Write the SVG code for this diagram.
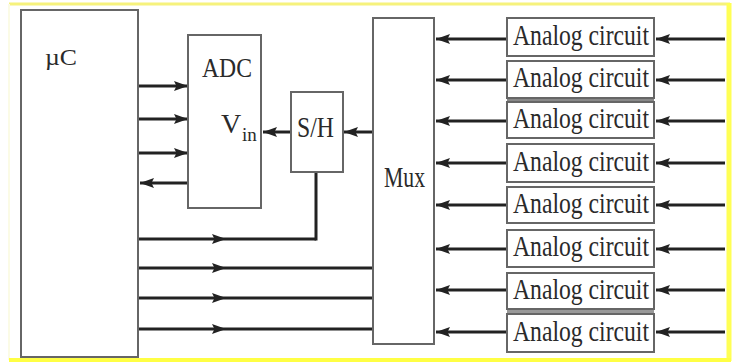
<svg xmlns="http://www.w3.org/2000/svg" width="737" height="362" viewBox="0 0 737 362">
<style>
.box{fill:#fff;stroke:#666;stroke-width:2}
.t{font-family:"Liberation Serif","Times New Roman",serif;fill:#2a2a2a}
.w{fill:none;stroke:#222;stroke-width:3}
.ar{fill:none;stroke:#222;stroke-width:3;marker-end:url(#ah)}
.mid{fill:none;stroke:#222;stroke-width:3;marker-mid:url(#ah)}
</style>
<defs>
<marker id="ah" markerUnits="userSpaceOnUse" markerWidth="15" markerHeight="11" refX="14" refY="5.5" orient="auto" viewBox="0 0 15 11">
<path d="M0,0.5 L14,5.5 L0,10.5 L2.5,5.5 z" fill="#222"/>
</marker>
</defs>
<rect x="0" y="0" width="737" height="362" fill="#fff"/>
<g id="frame" fill="none">
<path d="M9,4 H730" stroke="#f6f27c" stroke-width="3"/>
<path d="M9,4 V360" stroke="#fbfbe6" stroke-width="2"/>
<path d="M729,3 V361" stroke="#ffff55" stroke-width="5"/>
<path d="M9,360 H731" stroke="#ffff44" stroke-width="4"/>
</g>
<g id="connectors">
<path class="ar" d="M138,86 H188"/>
<path class="ar" d="M138,119 H188"/>
<path class="ar" d="M138,153 H188"/>
<path class="ar" d="M188,183 H140"/>
<path class="ar" d="M291,132 H263"/>
<path class="ar" d="M373,132 H344"/>
<path class="mid" d="M138,239 H226 H316"/>
<path class="w" d="M314.5,239 H316 V172"/>
<path class="mid" d="M138,268 H226 H373"/>
<path class="mid" d="M138,298 H226 H373"/>
<path class="mid" d="M138,329 H226 H373"/>
<path class="ar" d="M507,39 H436"/>
<path class="ar" d="M507,80 H436"/>
<path class="ar" d="M507,121 H436"/>
<path class="ar" d="M507,163 H436"/>
<path class="ar" d="M507,205 H436"/>
<path class="ar" d="M507,249 H436"/>
<path class="ar" d="M507,290 H436"/>
<path class="ar" d="M507,332 H436"/>
<path class="ar" d="M725,39 H656"/>
<path class="ar" d="M725,80 H656"/>
<path class="ar" d="M725,121 H656"/>
<path class="ar" d="M725,163 H656"/>
<path class="ar" d="M725,205 H656"/>
<path class="ar" d="M725,249 H656"/>
<path class="ar" d="M725,290 H656"/>
<path class="ar" d="M725,332 H656"/>
</g>
<g id="uC"><rect class="box" x="21" y="10" width="117" height="347"/><text class="t" x="45" y="65" font-size="23" textLength="32" lengthAdjust="spacingAndGlyphs">µC</text></g>
<g id="ADC"><rect class="box" x="188" y="35" width="73" height="173"/><text class="t" x="202" y="77" font-size="28" textLength="50" lengthAdjust="spacingAndGlyphs">ADC</text><text class="t" x="221" y="133" font-size="28">V<tspan x="242" dy="8" font-size="19">in</tspan></text></g>
<g id="SH"><rect class="box" x="291" y="92" width="52" height="80"/><text class="t" x="297" y="137" font-size="29" textLength="37" lengthAdjust="spacingAndGlyphs">S/H</text></g>
<g id="Mux"><rect class="box" x="373" y="18" width="61" height="326"/><text class="t" x="384" y="187" font-size="29" textLength="41" lengthAdjust="spacingAndGlyphs">Mux</text></g>
<rect x="507" y="97" width="147" height="5" fill="#888"/>
<rect x="507" y="309" width="147" height="5" fill="#999"/>
<g id="ac1"><rect class="box" x="507" y="18" width="147" height="38"/><text class="t" x="513" y="45" font-size="29" textLength="136" lengthAdjust="spacingAndGlyphs">Analog circuit</text></g>
<g id="ac2"><rect class="box" x="507" y="61" width="147" height="37"/><text class="t" x="513" y="87" font-size="29" textLength="136" lengthAdjust="spacingAndGlyphs">Analog circuit</text></g>
<g id="ac3"><rect class="box" x="507" y="102" width="147" height="36"/><text class="t" x="513" y="128" font-size="29" textLength="136" lengthAdjust="spacingAndGlyphs">Analog circuit</text></g>
<g id="ac4"><rect class="box" x="507" y="144" width="147" height="38"/><text class="t" x="513" y="171" font-size="29" textLength="136" lengthAdjust="spacingAndGlyphs">Analog circuit</text></g>
<g id="ac5"><rect class="box" x="507" y="187" width="147" height="36"/><text class="t" x="513" y="213" font-size="29" textLength="136" lengthAdjust="spacingAndGlyphs">Analog circuit</text></g>
<g id="ac6"><rect class="box" x="507" y="230" width="147" height="37"/><text class="t" x="513" y="256" font-size="29" textLength="136" lengthAdjust="spacingAndGlyphs">Analog circuit</text></g>
<g id="ac7"><rect class="box" x="507" y="273" width="147" height="36"/><text class="t" x="513" y="299" font-size="29" textLength="136" lengthAdjust="spacingAndGlyphs">Analog circuit</text></g>
<g id="ac8"><rect class="box" x="507" y="314" width="147" height="38"/><text class="t" x="513" y="341" font-size="29" textLength="136" lengthAdjust="spacingAndGlyphs">Analog circuit</text></g>
</svg>
